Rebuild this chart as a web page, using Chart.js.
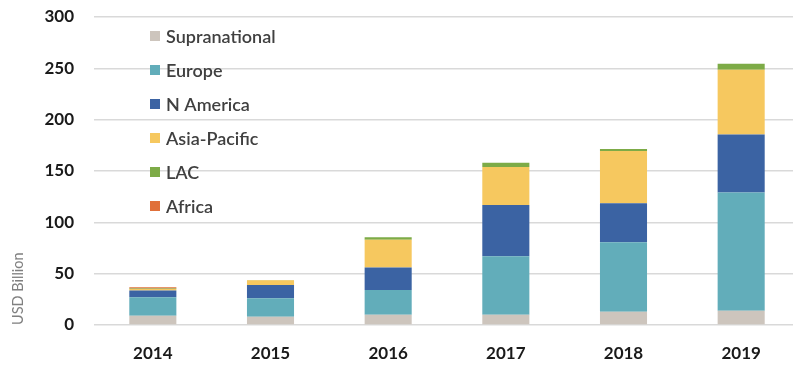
<!DOCTYPE html>
<html>
<head>
<meta charset="utf-8">
<script src="https://cdn.jsdelivr.net/npm/chart.js@4.4.1/dist/chart.umd.min.js"></script>
<style>
  html, body { margin: 0; padding: 0; background: #fff; overflow: hidden; }
  #wrap { width: 800px; height: 365px; position: relative; }
</style>
</head>
<body>
<div id="wrap"><canvas id="chart"></canvas></div>
<script>
'use strict';

// ─── Data (USD billion) ──────────────────────────────────────────────────────
const years         = ['2014', '2015', '2016', '2017', '2018', '2019'];
const supranational = [9,    8,    10,   10,   13,   14];
const europe        = [18,   18,   24,   57,   67.5, 115];
const nAmerica      = [6.5,  13,   22,   50,   38,   56.5];
const asiaPacific   = [1.5,  4.5,  27,   37,   51,   63];
const lac           = [0.5,  0.3,  2.5,  4,    2,    6];
const africa        = [1.2,  0,    0,    0,    0,    0];
const yTicks        = [0, 50, 100, 150, 200, 250, 300];

const FONT = 'Lato, "Open Sans", sans-serif';

const series = [
  { label: 'Supranational', data: supranational, color: '#cdc5bd' },
  { label: 'Europe',        data: europe,        color: '#62adba' },
  { label: 'N America',     data: nAmerica,      color: '#3b63a3' },
  { label: 'Asia-Pacific',  data: asiaPacific,   color: '#f6c85f' },
  { label: 'LAC',           data: lac,           color: '#7dab47' },
  { label: 'Africa',        data: africa,        color: '#e0703a' },
];

// ─── Legend drawn inside the plot, stacked vertically ───────────────────────
const insideLegend = {
  id: 'insideLegend',
  afterDraw(chart) {
    const { ctx } = chart;
    const x0 = 150, y0 = 36, step = 34, box = 10;
    ctx.save();
    ctx.font = '600 18px ' + FONT;
    ctx.textBaseline = 'middle';
    chart.data.datasets.forEach((ds, i) => {
      const y = y0 + i * step;
      ctx.fillStyle = ds.backgroundColor;
      ctx.fillRect(x0, y - box / 2, box, box);
      ctx.fillStyle = '#404040';
      ctx.fillText(ds.label, x0 + 16, y + 1);
    });
    ctx.restore();
  },
};

const ctx = document.getElementById('chart').getContext('2d');
new Chart(ctx, {
  type: 'bar',
  data: {
    labels: years,
    datasets: series.map(s => ({
      label:           s.label,
      data:            s.data,
      backgroundColor: s.color,
      borderWidth:     0,
      categoryPercentage: 1,
      barPercentage:   0.4,
    })),
  },
  options: {
    animation: false,
    responsive: true,
    maintainAspectRatio: false,
    layout: { padding: { top: 17, right: 0, bottom: 0, left: 10 } },
    plugins: {
      legend:  { display: false },
      tooltip: { enabled: false },
    },
    scales: {
      x: {
        stacked: true,
        grid:   { display: false },
        border: { display: false },
        ticks:  { color: '#1a1a1a', padding: 10, font: { family: FONT, size: 17, weight: 'bold' } },
        afterFit: (axis) => { axis.height = 40; },
      },
      y: {
        stacked: true,
        min: 0,
        max: 300,
        afterBuildTicks: (axis) => { axis.ticks = yTicks.map(v => ({ value: v })); },
        // fixed gutter; top label overhang is absorbed by the layout padding
        afterFit: (axis) => { axis.width = 84; axis.paddingTop = 0; axis.paddingBottom = 0; },
        grid:   { color: '#d9d9d9', lineWidth: 1.5, drawTicks: false },
        border: { display: false },
        ticks:  { color: '#1a1a1a', padding: 20, font: { family: FONT, size: 17, weight: 'bold' } },
        title: {
          display: true,
          text: 'USD Billion',
          align: 'start',
          color: '#808080',
          padding: { top: 0, bottom: 6 },
          font: { family: FONT, size: 14.5 },
        },
      },
    },
  },
  plugins: [insideLegend],
});
</script>
</body>
</html>
